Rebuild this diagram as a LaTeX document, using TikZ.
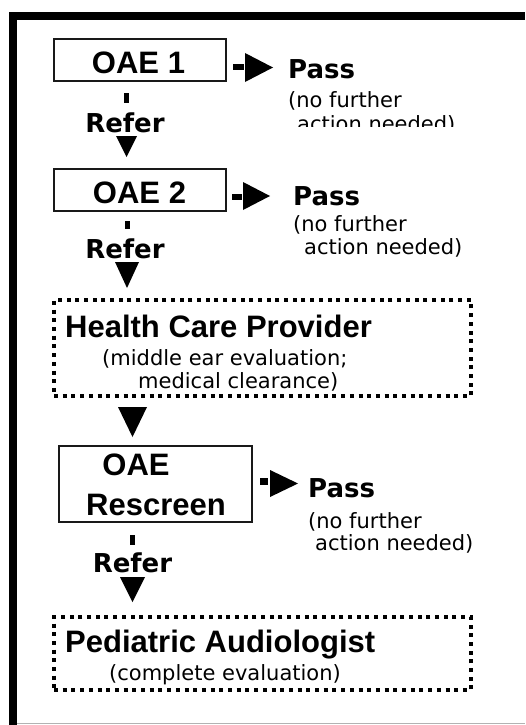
\documentclass[tikz,border=0pt]{standalone}
\usepackage{fontspec}
\newfontfamily\boxfont{Liberation Sans}
\newfontfamily\dvs{DejaVu Sans}
\tikzset{
  solidbox/.style={draw=black!90, line width=2pt, inner sep=0pt},
  dotbox/.style={draw=black, line width=4pt, dash pattern=on 4pt off 4.7pt, inner sep=0pt},
  boxtxt/.style={font=\boxfont\bfseries\fontsize{31}{37}\selectfont, inner sep=0pt, anchor=base},
  boxtxtw/.style={boxtxt, anchor=base west},
  lbl/.style={font=\dvs\bfseries\fontsize{26}{30}\selectfont, inner sep=0pt, anchor=base},
  lblw/.style={lbl, anchor=base west},
  subtxt/.style={font=\dvs\fontsize{21}{24}\selectfont, inner sep=0pt, anchor=base west},
  vstub/.style={line width=5pt},
  hstub/.style={line width=6.5pt},
  tip/.style={fill=black}
}
\begin{document}
\begin{tikzpicture}[x=1pt, y=-1pt]
\useasboundingbox (0,0) rectangle (525,725);
% frame
\fill[black] (9,12) rectangle (525,20);
\fill[black] (9,12) rectangle (17,725);
\draw[black!30, line width=1pt] (17,723.5) -- (525,723.5);

% boxes
\node[solidbox, minimum width=172pt, minimum height=41pt] (oae1) at (140,60) {};
\node[solidbox, minimum width=172pt, minimum height=42pt] (oae2) at (140,190) {};
\node[dotbox, minimum width=417pt, minimum height=96pt] (hcp) at (262.5,348) {};
\node[solidbox, minimum width=193pt, minimum height=76pt] (resc) at (155.5,484) {};
\node[dotbox, minimum width=417pt, minimum height=73pt] (pa) at (262.5,653.5) {};

% box texts
\node[boxtxt] (t1) at (138.5,74) {OAE 1};
\node[boxtxt] (t2) at (139.5,203) {OAE 2};
\node[boxtxtw] (t3) at (65,337) {Health Care Provider};
\node[subtxt] (t3a) at (102,365) {(middle ear evaluation;};
\node[subtxt] (t3b) at (138,388) {medical clearance)};
\node[boxtxt] (t4) at (136,475) {OAE};
\node[boxtxt] (t4b) at (156,515) {Rescreen};
\node[boxtxtw] (t5) at (65,652) {Pediatric Audiologist};
\node[subtxt] (t5a) at (109,680) {(complete evaluation)};

% pass labels
\node[lblw] (pass1) at (288,78) {Pass};
\node[subtxt] (p1a) at (288,107) {(no further};
\begin{scope}
  \clip (280,100) rectangle (470,126.5);
  \node[subtxt] (p1b) at (297,131) {action needed)};
\end{scope}
\node[lblw] (pass2) at (293,205) {Pass};
\node[subtxt] (p2a) at (293,231) {(no further};
\node[subtxt] (p2b) at (304,254) {action needed)};
\node[lblw] (pass3) at (308,497) {Pass};
\node[subtxt] (p3a) at (308,528) {(no further};
\node[subtxt] (p3b) at (315,550) {action needed)};

% refer labels
\node[lbl] (r1) at (125,132) {Refer};
\node[lbl] (r2) at (125,258) {Refer};
\node[lbl] (r3) at (132.5,572) {Refer};

% vertical connectors: stub, label, triangle
\coordinate (s1a) at (126,93);  \coordinate (s1b) at (126,103);
\coordinate (s2a) at (127,221); \coordinate (s2b) at (127,229);
\coordinate (s3a) at (132.5,535); \coordinate (s3b) at (132.5,545);
\draw[vstub] (s1a) -- (s1b);
\draw[vstub] (s2a) -- (s2b);
\draw[vstub] (s3a) -- (s3b);
\fill[tip] (116,136) -- (137,136) -- (126.5,157) -- cycle;
\fill[tip] (115,262) -- (139,262) -- (127,288) -- cycle;
\fill[tip] (118,407) -- (147,407) -- (132.5,437) -- cycle;
\fill[tip] (120,577) -- (145,577) -- (132.5,602) -- cycle;

% horizontal connectors to Pass
\coordinate (h1a) at (233,67);  \coordinate (h1b) at (244,67);
\coordinate (h2a) at (232,197); \coordinate (h2b) at (242,197);
\coordinate (h3a) at (260,481.5); \coordinate (h3b) at (268,481.5);
\draw[hstub] (h1a) -- (h1b);
\draw[hstub] (h2a) -- (h2b);
\draw[hstub] (h3a) -- (h3b);
\fill[tip] (245,53) -- (245,82) -- (273,67.5) -- cycle;
\fill[tip] (243,182) -- (243,210) -- (270,196) -- cycle;
\fill[tip] (270,470) -- (270,497) -- (298,483.5) -- cycle;
\end{tikzpicture}
\end{document}
